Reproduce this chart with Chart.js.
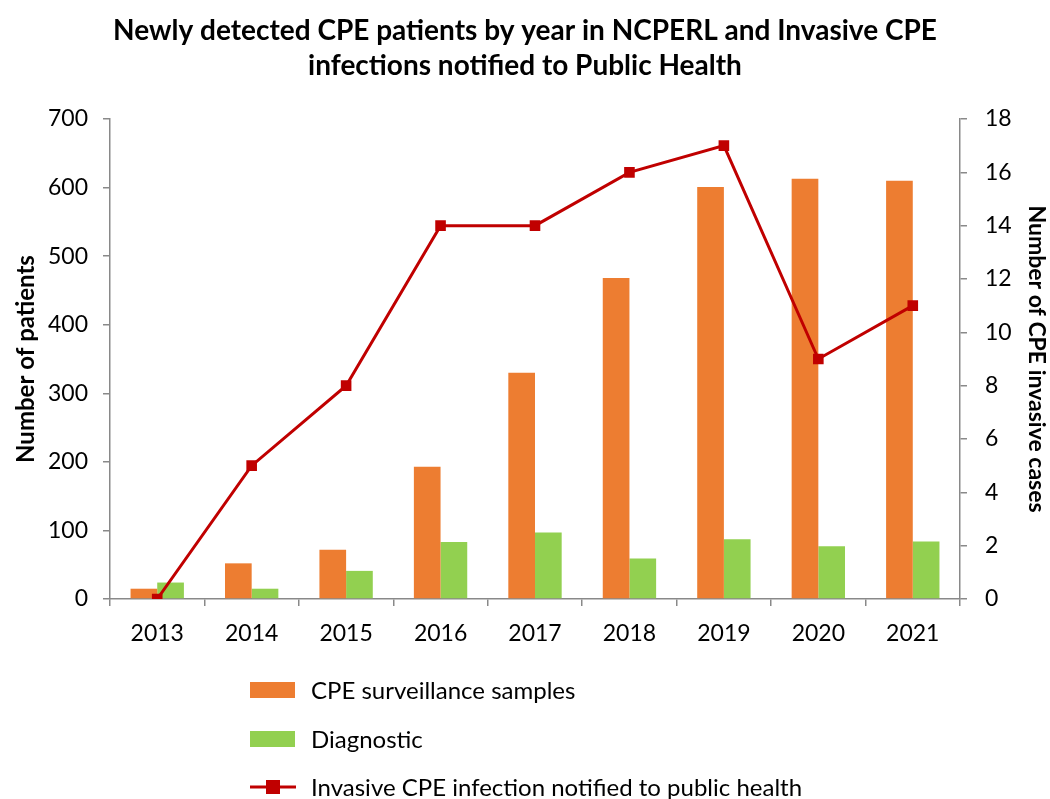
<!DOCTYPE html>
<html>
<head>
<meta charset="utf-8">
<script src="https://cdn.jsdelivr.net/npm/chart.js@4"></script>
<style>
html,body{margin:0;padding:0;background:#fff;}
#wrap{width:1050px;height:799px;position:relative;}
</style>
</head>
<body>
<div id="wrap"><canvas id="c" width="1050" height="799"></canvas></div>
<script>
const years = ['2013','2014','2015','2016','2017','2018','2019','2020','2021'];
const surveillance = [15, 52, 72, 193, 330, 468, 601, 613, 610];
const diagnostic = [24, 15, 41, 83, 97, 59, 87, 77, 84];
const invasive = [0, 5, 8, 14, 14, 16, 17, 9, 11];

const FONT = 'Lato, "Open Sans", sans-serif';
const AXIS = '#898989';

const legendPlugin = {
  id: 'vlegend',
  afterDraw(chart) {
    const ctx = chart.ctx;
    const items = chart.data.datasets.map(d => d);
    const ys = [690, 739, 787];
    ctx.save();
    ctx.font = '24px ' + FONT;
    ctx.textBaseline = 'middle';
    ctx.fillStyle = '#000';
    items.forEach((d, i) => {
      const y = ys[i];
      if (d.type === 'line') {
        ctx.strokeStyle = d.borderColor;
        ctx.lineWidth = 3;
        ctx.beginPath(); ctx.moveTo(250, y); ctx.lineTo(296, y); ctx.stroke();
        ctx.fillStyle = d.backgroundColor;
        ctx.fillRect(266, y - 7, 14, 14);
      } else {
        ctx.fillStyle = d.backgroundColor;
        ctx.fillRect(250, y - 8, 45, 16);
      }
      ctx.fillStyle = '#000';
      ctx.fillText(d.label, 311, y + 1);
    });
    ctx.restore();
  }
};

new Chart(document.getElementById('c'), {
  data: {
    labels: years,
    datasets: [
      { type: 'bar', label: 'CPE surveillance samples', data: surveillance, backgroundColor: '#ED7D31', yAxisID: 'y', order: 2,
        categoryPercentage: 0.565, barPercentage: 1.0 },
      { type: 'bar', label: 'Diagnostic', data: diagnostic, backgroundColor: '#92D050', yAxisID: 'y', order: 3,
        categoryPercentage: 0.565, barPercentage: 1.0 },
      { type: 'line', label: 'Invasive CPE infection notified to public health', data: invasive, borderColor: '#C00000',
        backgroundColor: '#C00000', borderWidth: 3, pointStyle: 'rect', pointRadius: 7.5, pointHoverRadius: 7.5,
        pointBorderWidth: 0, yAxisID: 'y1', order: 1, tension: 0 }
    ]
  },
  options: {
    responsive: false,
    animation: false,
    events: [],
    layout: { padding: { top: 0, bottom: 150, left: 0, right: 0 } },
    plugins: {
      legend: { display: false },
      tooltip: { enabled: false },
      title: {
        display: true,
        text: ['Newly detected CPE patients by year in NCPERL and Invasive CPE', 'infections notified to Public Health'],
        font: { family: FONT, size: 28, weight: 'bold', lineHeight: 1.25 },
        color: '#000',
        padding: { top: 13, bottom: 36 }
      }
    },
    scales: {
      x: {
        offset: true,
        grid: { display: true, drawOnChartArea: false, offset: true, tickLength: 7, color: AXIS, lineWidth: 1.5 },
        border: { display: true, color: AXIS, width: 1.5 },
        ticks: { color: '#000', font: { family: FONT, size: 23 }, padding: 14, maxRotation: 0 },
        afterFit(s) { s.height = 50; }
      },
      y: {
        position: 'left', min: 0, max: 700,
        grid: { display: true, drawOnChartArea: false, tickLength: 7, color: AXIS, lineWidth: 1.5 },
        border: { display: true, color: AXIS, width: 1.5 },
        ticks: { stepSize: 100, color: '#000', font: { family: FONT, size: 23 }, padding: 15 },
        title: { display: true, text: 'Number of patients', color: '#000', font: { family: FONT, size: 24, weight: 'bold' }, padding: { top: 12, bottom: 0 } },
        afterFit(s) { s.width = 110; }
      },
      y1: {
        position: 'right', min: 0, max: 18,
        grid: { display: true, drawOnChartArea: false, tickLength: 7, color: AXIS, lineWidth: 1.5 },
        border: { display: true, color: AXIS, width: 1.5 },
        ticks: { stepSize: 2, color: '#000', font: { family: FONT, size: 23 }, padding: 18 },
        title: { display: true, text: 'Number of CPE invasive cases', color: '#000', font: { family: FONT, size: 23, weight: 'bold' }, padding: { top: 0, bottom: 4 } },
        afterFit(s) { s.width = 90; }
      }
    }
  },
  plugins: [legendPlugin]
});
</script>
</body>
</html>
